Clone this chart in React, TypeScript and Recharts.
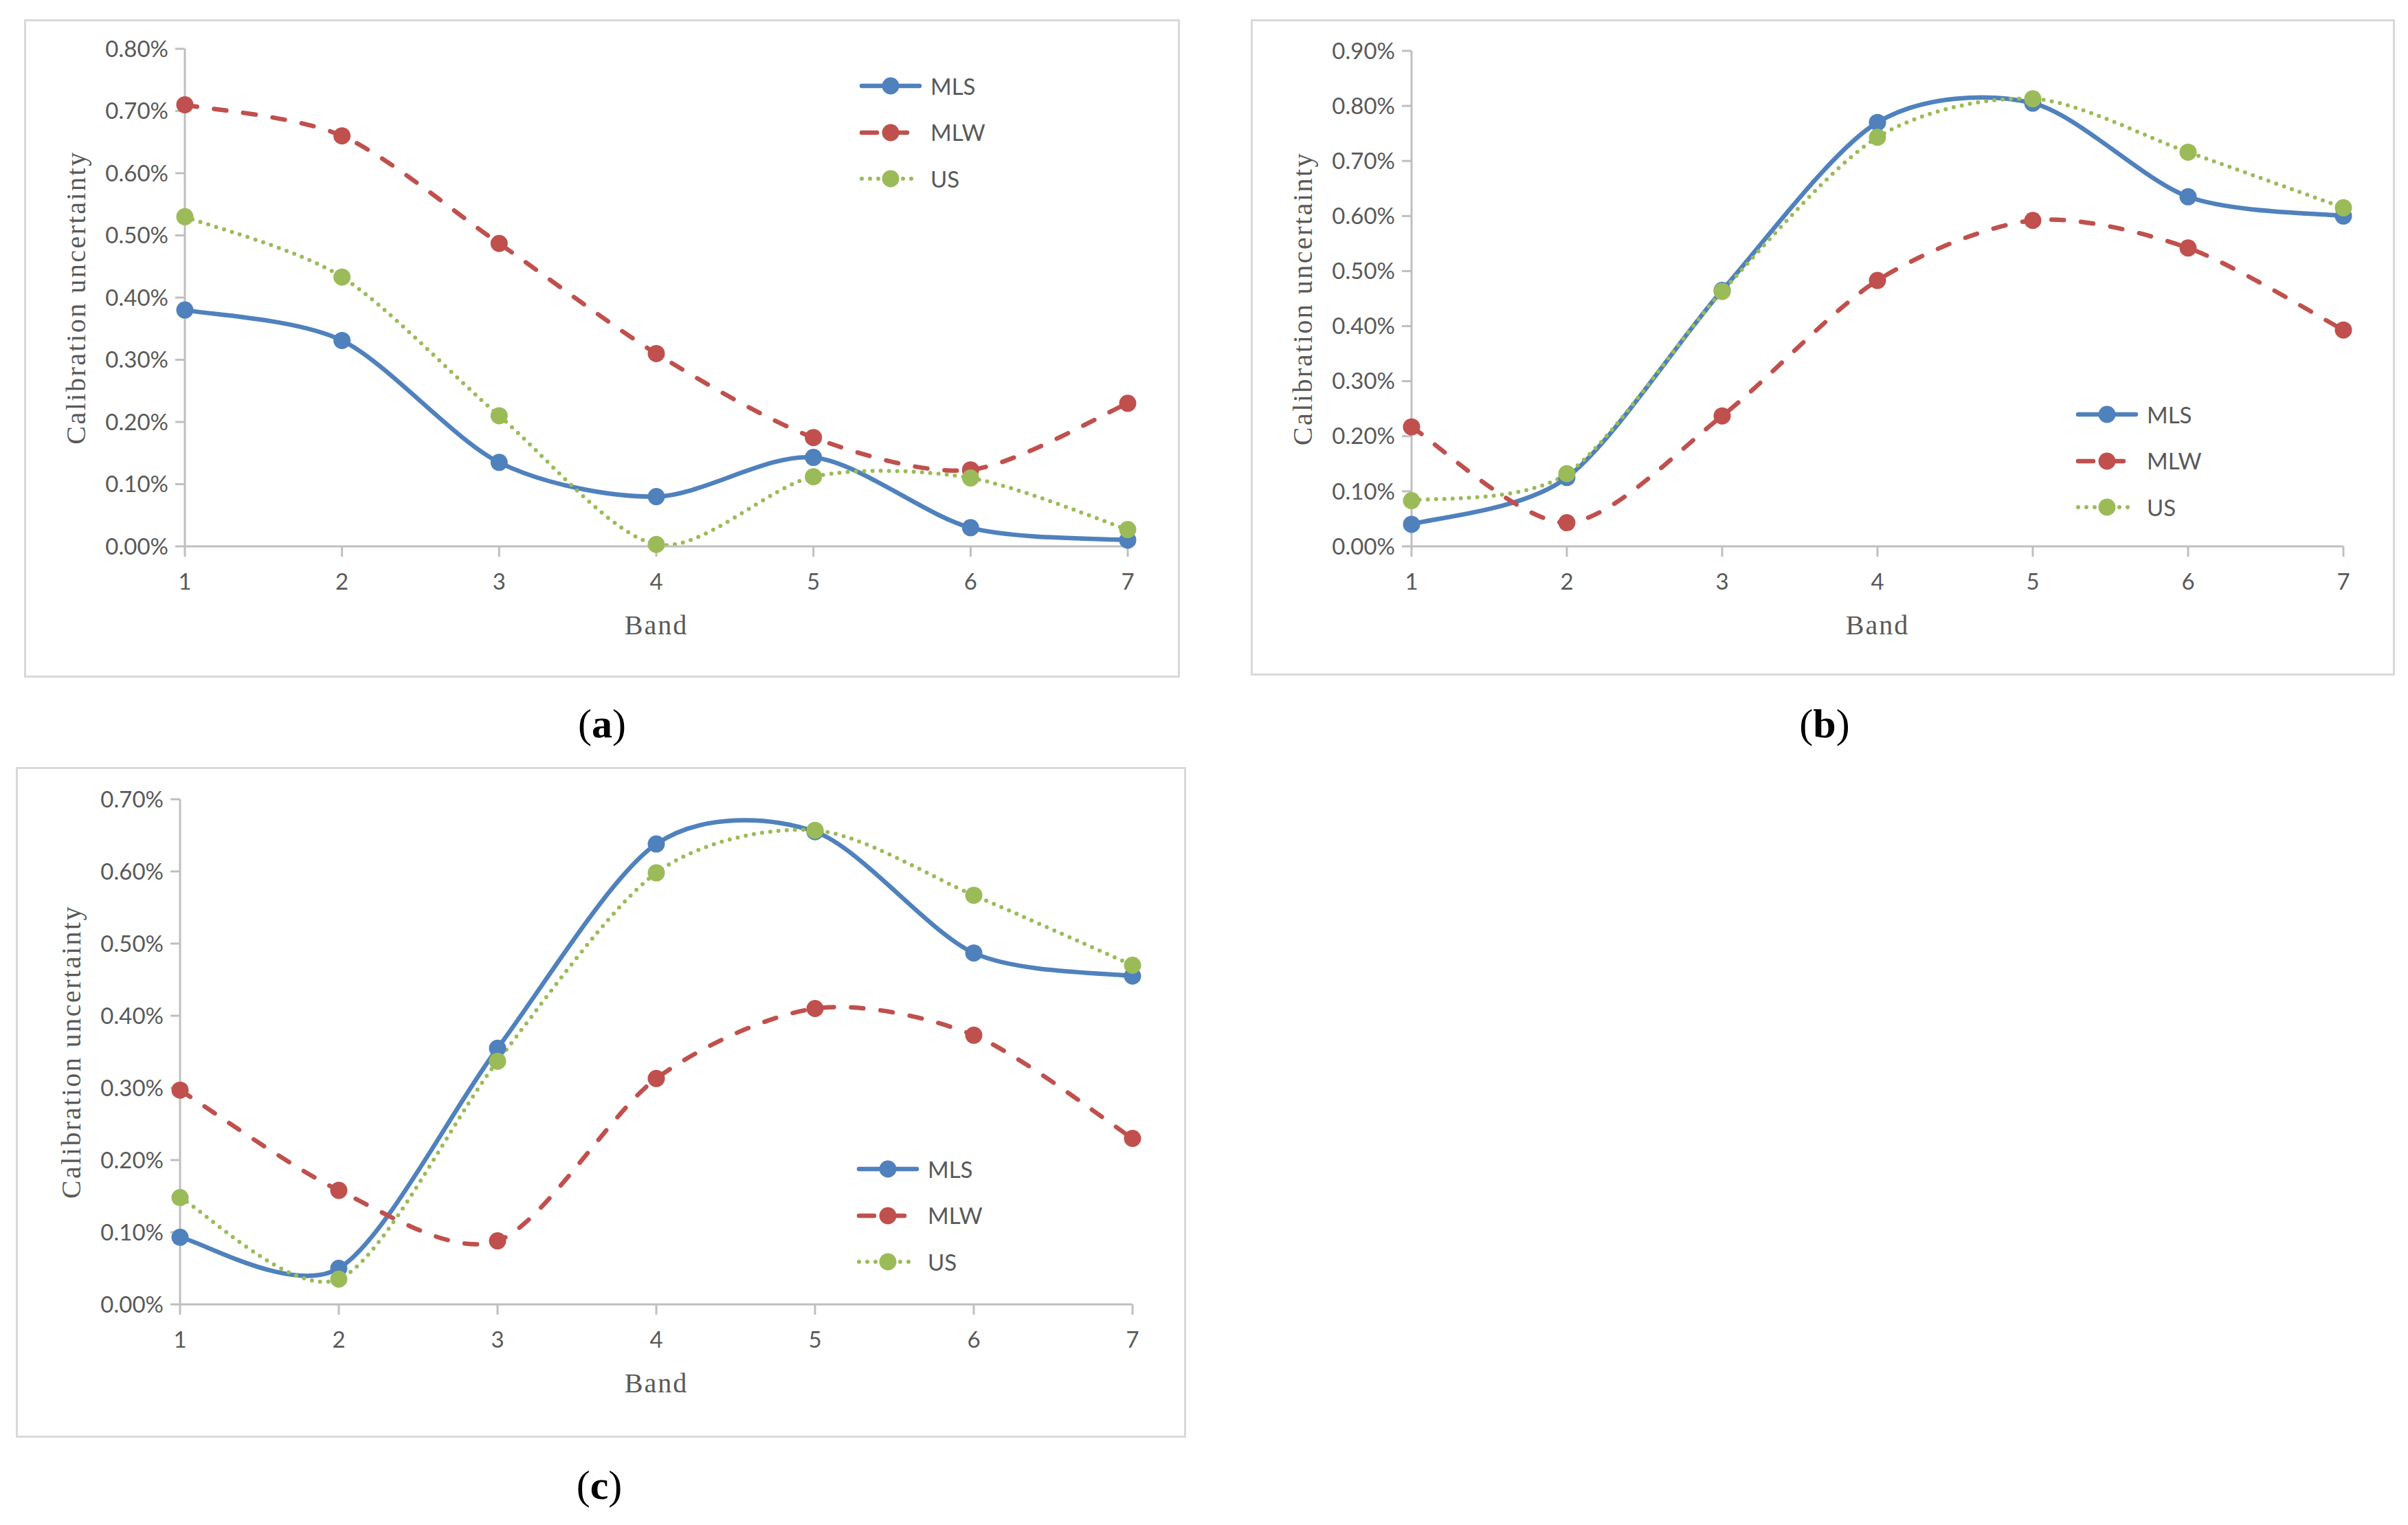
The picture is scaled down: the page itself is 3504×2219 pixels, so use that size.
import { LineChart, Line, XAxis, YAxis, Legend } from 'recharts';

// band numbers on the x axis
const BANDS = [1, 2, 3, 4, 5, 6, 7];

// (a) values in %
const A_MLS = [0.38, 0.331, 0.135, 0.08, 0.143, 0.03, 0.01];
const A_MLW = [0.71, 0.66, 0.487, 0.31, 0.175, 0.123, 0.23];
const A_US = [0.53, 0.433, 0.21, 0.003, 0.112, 0.11, 0.027];
const A_TICKS = [0, 0.1, 0.2, 0.3, 0.4, 0.5, 0.6, 0.7, 0.8];

// (b)
const B_MLS = [0.04, 0.125, 0.465, 0.77, 0.805, 0.635, 0.6];
const B_MLW = [0.217, 0.043, 0.237, 0.483, 0.592, 0.542, 0.393];
const B_US = [0.083, 0.132, 0.463, 0.743, 0.813, 0.716, 0.615];
const B_TICKS = [0, 0.1, 0.2, 0.3, 0.4, 0.5, 0.6, 0.7, 0.8, 0.9];

// (c)
const C_MLS = [0.093, 0.05, 0.355, 0.638, 0.655, 0.487, 0.455];
const C_MLW = [0.297, 0.158, 0.088, 0.313, 0.41, 0.373, 0.23];
const C_US = [0.148, 0.035, 0.337, 0.598, 0.657, 0.567, 0.47];
const C_TICKS = [0, 0.1, 0.2, 0.3, 0.4, 0.5, 0.6, 0.7];

const SERIES = [
  { key: 'MLS', color: '#4F81BD', dash: undefined, width: 6.5 },
  { key: 'MLW', color: '#C0504D', dash: '18 25', width: 6.5 },
  { key: 'US', color: '#9BBB59', dash: '0 12', width: 6 },
];

const TICK_FONT = 'Lato, "Open Sans", sans-serif';
const SERIF = '"Liberation Serif", "DejaVu Serif", serif';
const AXIS_GREY = '#BFBFBF';
const TEXT_GREY = '#595959';
const SMOOTH = 1 / 7;

// Excel-like smoothed line (Catmull-Rom style cubic bezier)
function excelSmooth(context: any) {
  let pts: number[][] = [];
  return {
    areaStart() {},
    areaEnd() {},
    lineStart() {
      pts = [];
    },
    point(x: number, y: number) {
      pts.push([+x, +y]);
    },
    lineEnd() {
      const n = pts.length;
      if (!n) return;
      context.moveTo(pts[0][0], pts[0][1]);
      for (let i = 0; i < n - 1; i++) {
        const p0 = pts[i - 1] || pts[i];
        const p1 = pts[i];
        const p2 = pts[i + 1];
        const p3 = pts[i + 2] || pts[i + 1];
        context.bezierCurveTo(
          p1[0] + (p2[0] - p0[0]) * SMOOTH,
          p1[1] + (p2[1] - p0[1]) * SMOOTH,
          p2[0] - (p3[0] - p1[0]) * SMOOTH,
          p2[1] - (p3[1] - p1[1]) * SMOOTH,
          p2[0],
          p2[1],
        );
      }
    },
  };
}

const pct = (v: number) => `${v.toFixed(2)}%`;

function LegendBox({ payload }: any) {
  return (
    <div>
      {(payload || []).map((entry: any) => {
        const s = SERIES.find((x) => x.key === entry.dataKey) || SERIES[0];
        return (
          <div key={s.key} style={{ height: 67.5, display: 'flex', alignItems: 'center' }}>
            <svg width={104} height={30} style={{ display: 'block' }}>
              <line
                x1={4}
                x2={s.key === 'MLW' ? 72 : 88}
                y1={15}
                y2={15}
                stroke={s.color}
                strokeWidth={s.width}
                strokeLinecap="round"
                strokeDasharray={s.key === 'MLW' ? '22 22' : s.dash}
              />
              <circle cx={46} cy={15} r={12.5} fill={s.color} />
            </svg>
            <span style={{ fontFamily: TICK_FONT, fontSize: 33, color: TEXT_GREY, lineHeight: 1 }}>
              {entry.value}
            </span>
          </div>
        );
      })}
    </div>
  );
}

interface PanelProps {
  mls: number[];
  mlw: number[];
  us: number[];
  ticks: number[];
  frame: { left: number; top: number; right: number; bottom: number };
  plot: { left: number; top: number; right: number; bottom: number };
  legend: { x: number; y: number };
}

function Panel({ mls, mlw, us, ticks, frame, plot, legend }: PanelProps) {
  const data = BANDS.map((b, i) => ({ band: b, MLS: mls[i], MLW: mlw[i], US: us[i] }));
  const width = frame.right - frame.left;
  const height = frame.bottom - frame.top;
  return (
    <>
      <div
        style={{
          position: 'absolute',
          left: frame.left - 1.5,
          top: frame.top - 1.5,
          width,
          height,
          border: '3px solid #D9D9D9',
        }}
      />
      <div style={{ position: 'absolute', left: frame.left, top: frame.top }}>
        <LineChart
          width={width}
          height={height}
          data={data}
          margin={{ top: plot.top - frame.top, right: frame.right - plot.right, left: 0, bottom: 0 }}
        >
          <XAxis
            dataKey="band"
            type="number"
            domain={[1, 7]}
            ticks={BANDS}
            height={frame.bottom - plot.bottom}
            axisLine={{ stroke: AXIS_GREY, strokeWidth: 3 }}
            tickLine={{ stroke: AXIS_GREY, strokeWidth: 3 }}
            tickSize={15}
            tickMargin={25}
            tick={{ fontFamily: TICK_FONT, fontSize: 33, fill: TEXT_GREY }}
            label={{
              content: ({ viewBox }: any) => (
                <text
                  x={viewBox.x + viewBox.width / 2}
                  y={viewBox.y + 128}
                  textAnchor="middle"
                  fontFamily={SERIF}
                  fontSize={40}
                  letterSpacing={2}
                  fill={TEXT_GREY}
                >
                  Band
                </text>
              ),
            }}
          />
          <YAxis
            type="number"
            domain={[0, ticks[ticks.length - 1]]}
            ticks={ticks}
            width={plot.left - frame.left}
            tickFormatter={pct}
            axisLine={{ stroke: AXIS_GREY, strokeWidth: 3 }}
            tickLine={{ stroke: AXIS_GREY, strokeWidth: 3 }}
            tickSize={14}
            tickMargin={10}
            tick={{ fontFamily: TICK_FONT, fontSize: 33, fill: TEXT_GREY }}
            label={{
              content: ({ viewBox }: any) => {
                const x = viewBox.x + viewBox.width - 145;
                const y = viewBox.y + viewBox.height / 2;
                return (
                  <text
                    x={x}
                    y={y}
                    transform={`rotate(-90 ${x} ${y})`}
                    textAnchor="middle"
                    fontFamily={SERIF}
                    fontSize={40}
                    letterSpacing={2.5}
                    fill={TEXT_GREY}
                  >
                    Calibration uncertainty
                  </text>
                );
              },
            }}
          />
          <Legend
            layout="vertical"
            align="center"
            verticalAlign="middle"
            content={<LegendBox />}
            wrapperStyle={{ left: legend.x - 46 - frame.left, top: legend.y - 33.75 - frame.top, width: 200 }}
          />
          {SERIES.map((s) => (
            <Line
              key={s.key}
              dataKey={s.key}
              name={s.key}
              type={excelSmooth as any}
              stroke={s.color}
              strokeWidth={s.width}
              strokeDasharray={s.dash}
              strokeLinecap="round"
              dot={{ r: 12.5, fill: s.color, stroke: s.color, strokeWidth: 0 }}
              isAnimationActive={false}
            />
          ))}
        </LineChart>
      </div>
    </>
  );
}

function Caption({ x, y, letter }: { x: number; y: number; letter: string }) {
  return (
    <text x={x} y={y} textAnchor="middle" fontFamily={SERIF} fontSize={60} fill="#000">
      (<tspan fontWeight="bold">{letter}</tspan>)
    </text>
  );
}

export default function App() {
  return (
    <div style={{ position: 'absolute', left: 0, top: 0, width: 3504, height: 2219, background: '#fff', overflow: 'hidden' }}>
      <Panel
        mls={A_MLS}
        mlw={A_MLW}
        us={A_US}
        ticks={A_TICKS}
        frame={{ left: 36, top: 29, right: 1712, bottom: 981 }}
        plot={{ left: 269, top: 71, right: 1641, bottom: 795 }}
        legend={{ x: 1296, y: 125 }}
      />
      <Panel
        mls={B_MLS}
        mlw={B_MLW}
        us={B_US}
        ticks={B_TICKS}
        frame={{ left: 1821, top: 29, right: 3480, bottom: 978 }}
        plot={{ left: 2054, top: 74, right: 3410, bottom: 795 }}
        legend={{ x: 3066, y: 603 }}
      />
      <Panel
        mls={C_MLS}
        mlw={C_MLW}
        us={C_US}
        ticks={C_TICKS}
        frame={{ left: 24, top: 1117, right: 1721, bottom: 2087 }}
        plot={{ left: 262, top: 1163, right: 1648, bottom: 1898 }}
        legend={{ x: 1292, y: 1701 }}
      />
      <svg width={3504} height={2219} style={{ position: 'absolute', left: 0, top: 0, pointerEvents: 'none' }}>
        <Caption x={876} y={1073} letter="a" />
        <Caption x={2655} y={1073} letter="b" />
        <Caption x={872} y={2181} letter="c" />
      </svg>
    </div>
  );
}
